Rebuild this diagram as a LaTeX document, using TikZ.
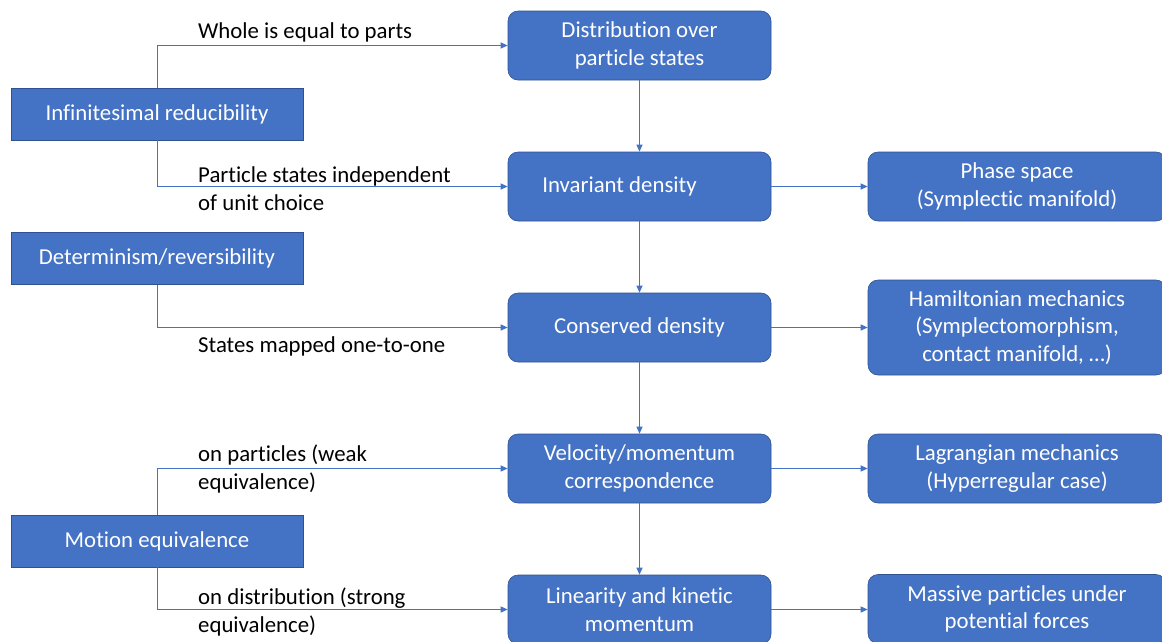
\documentclass[tikz,border=0pt]{standalone}
\usepackage{fontspec}
\setmainfont{Carlito}[Ligatures=NoCommon]
\usetikzlibrary{arrows.meta}
\definecolor{boxblue}{HTML}{4472C4}
\definecolor{boxedge}{HTML}{2F528F}
\tikzset{
	stepnode/.style={draw=boxedge, line width=0.6pt, fill=boxblue, text=white, rounded corners=10pt,
		align=center, inner sep=0pt, minimum width=263pt, minimum height=69pt},
	resultnode/.style={stepnode, minimum width=298pt},
	causenode/.style={draw=boxedge, line width=0.6pt, fill=boxblue, text=white, rounded corners=0pt,
		align=center, inner sep=0pt, minimum width=292pt, minimum height=52pt},
	linklabel/.style={align=left, inner sep=0pt, text=black},
	link/.style={draw=boxblue, line width=1pt, -{Triangle[length=7pt,width=6pt]}},
}
\begin{document}
\begin{tikzpicture}[x=1pt, y=-1pt, font=\fontsize{22.8}{27.5}\selectfont]
	%%%%% START %%%%%
	\useasboundingbox (0,0) rectangle (1162,641);
	\clip (0,0) rectangle (1162,641);
	
	% middle column
	\node[stepnode] (dist) at (639.5, 45.5) {Distribution over\\particle states};
	\node[stepnode] (inv) at (639.5, 186.5) {Invariant density\hspace*{40pt}};
	\node[stepnode] (cons) at (639.5, 327.5) {Conserved density};
	\node[stepnode] (velo) at (639.5, 468.5) {Velocity/momentum\\correspondence};
	\node[stepnode] (lin) at (639.5, 609.5) {Linearity and kinetic\\momentum};
	
	% right column
	\node[resultnode] (phase) at (1017, 186.5) {Phase space\\(Symplectic manifold)};
	\node[resultnode, minimum height=95pt] (hamil) at (1017, 327.5) {Hamiltonian mechanics\\(Symplectomorphism,\\contact manifold, \dots)};
	\node[resultnode] (lagr) at (1017, 468.5) {Lagrangian mechanics\\(Hyperregular case)};
	\node[resultnode] (mass) at (1017, 609) {Massive particles under\\potential forces};
	
	% left column
	\node[causenode] (infi) at (157, 114) {Infinitesimal reducibility};
	\node[causenode] (determ) at (157, 258.5) {Determinism/reversibility};
	\node[causenode] (motion) at (157, 541) {Motion equivalence};
	
	% arrows down the middle
	\draw[link] (dist) -- (inv);
	\draw[link] (inv) -- (cons);
	\draw[link] (cons) -- (velo);
	\draw[link] (velo) -- (lin);
	
	% arrows to the right
	\draw[link] (inv) -- (phase);
	\draw[link] (cons) -- (hamil);
	\draw[link] (velo) -- (lagr);
	\draw[link] (lin.east) -- (lin.east -| mass.west);
	
	% arrows from the left
	\draw[link] (infi.north) |- (dist.west);
	\draw[link] (infi.south) |- (inv.west);
	\draw[link] (determ.south) |- (cons.west);
	\draw[link] (motion.north) |- (velo.west);
	\draw[link] (motion.south) |- (lin.west);
	
	\node[linklabel, anchor=south west] (l1) at (198, 42) {Whole is equal to parts};
	\node[linklabel, anchor=west] (l2) at (198, 188.5) {Particle states independent\\of unit choice};
	\node[linklabel, anchor=north west] (l3) at (198, 336) {States mapped one-to-one};
	\node[linklabel, anchor=west] (l4) at (198, 469) {on particles (weak\\equivalence)};
	\node[linklabel, anchor=west] (l5) at (198, 612) {on distribution (strong\\equivalence)};
	
	%%%%% END %%%%%
\end{tikzpicture}
\end{document}
